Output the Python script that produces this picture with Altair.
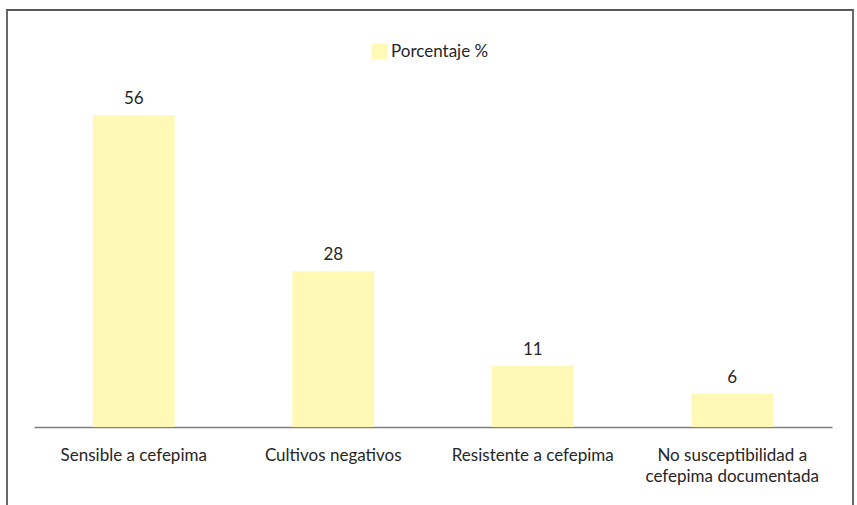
import altair as alt
import pandas as pd

categorias = ["Sensible a cefepima", "Cultivos negativos", "Resistente a cefepima",
              "No susceptibilidad a|cefepima documentada"]
valores = [56, 28, 11, 6]
serie = "Porcentaje %"

df = pd.DataFrame({"categoria": categorias, "valor": valores, "serie": [serie] * len(categorias)})

FONT = "Lato"
TXT = "#262626"

x = alt.X("categoria:N", sort=categorias, title=None,
          scale=alt.Scale(paddingInner=0.59, paddingOuter=0.295),
          axis=alt.Axis(labelAngle=0, ticks=False, domainColor="#7f7f7f", domainWidth=1.5,
                        labelFont=FONT, labelFontSize=17, labelColor=TXT, labelPadding=20,
                        labelLineHeight=21, labelExpr="split(datum.label, '|')", grid=False))
y = alt.Y("valor:Q", scale=alt.Scale(domain=[0, 60]), axis=None)

bars = alt.Chart(df).mark_bar().encode(
    x=x, y=y,
    color=alt.Color("serie:N", scale=alt.Scale(range=["#FFF9B5"]),
                    legend=alt.Legend(orient="none", legendX=337, legendY=-50, title=None,
                                      symbolType="square", symbolSize=256, symbolStrokeWidth=0,
                                      labelFont=FONT, labelFontSize=17, labelColor=TXT,
                                      labelOffset=3, padding=0))
)

labels = alt.Chart(df).mark_text(baseline="bottom", dy=-7, font=FONT, fontSize=17, color=TXT).encode(
    x=alt.X("categoria:N", sort=categorias), y="valor:Q", text="valor:Q"
)

frame = alt.Chart(alt.Data(values=[{"k": 1}])).mark_rect(
    fillOpacity=0, stroke="#595959", strokeWidth=1.8, clip=False
).encode(x=alt.value(-27), x2=alt.value(819), y=alt.value(-83), y2=alt.value(460))

chart = alt.layer(bars, labels, frame).properties(
    width=798, height=334,
    autosize=alt.AutoSizeParams(type="none"),
    padding={"left": 34, "top": 93, "right": 25, "bottom": 78},
).configure_view(stroke=None)

chart.save("out.html", embed_options={"renderer": "svg", "actions": False})
